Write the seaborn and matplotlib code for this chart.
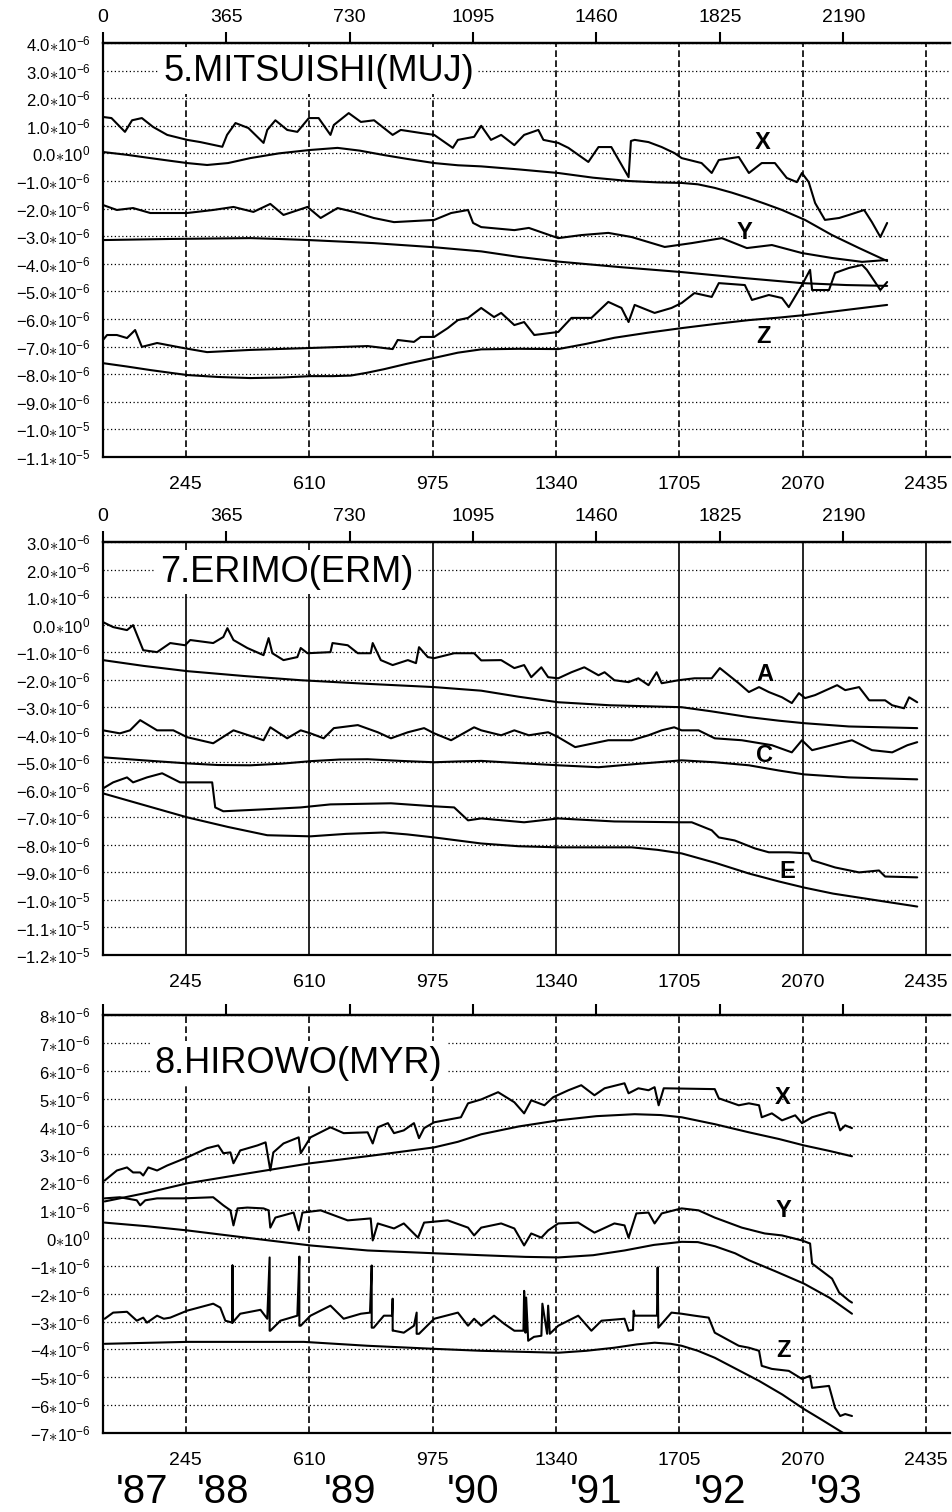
import matplotlib
matplotlib.use('Agg')
import matplotlib.pyplot as plt
import pandas as pd
import seaborn as sns

sns.set_theme(style='white')
plt.rcParams['font.family'] = ['Liberation Sans', 'DejaVu Sans']
plt.rcParams['text.color'] = 'black'
plt.rcParams['axes.labelcolor'] = 'black'
plt.rcParams['mathtext.fontset'] = 'custom'
plt.rcParams['mathtext.rm'] = 'Liberation Sans'
plt.rcParams['mathtext.it'] = 'Liberation Sans:italic'
plt.rcParams['mathtext.bf'] = 'Liberation Sans:bold'

# ---------------- axis ticks / labels ----------------
top_ticks = [0, 365, 730, 1095, 1460, 1825, 2190]
bottom_ticks = [245, 610, 975, 1340, 1705, 2070, 2435]
year_labels = ["'87", "'88", "'89", "'90", "'91", "'92", "'93"]
year_days = [115, 355, 730, 1095, 1460, 1825, 2170]

# ---------------- 5. MITSUISHI (MUJ) (units 1e-6) ----------------
muj_x_obs_day = [0, 25, 65, 86, 115, 148, 190, 249, 288, 353, 367, 392, 430, 475, 486, 510, 545, 575, 609, 638,
                 673, 683, 727, 763, 802, 857, 881, 940, 980, 1035, 1050, 1098, 1119, 1148, 1178, 1217, 1246,
                 1288, 1303, 1347, 1377, 1436, 1466, 1504, 1555, 1562, 1573, 1614, 1653, 1691, 1712, 1771, 1801,
                 1822, 1881, 1911, 1949, 1988, 2023, 2053, 2068, 2088, 2107, 2136, 2178, 2207, 2252, 2275, 2300, 2320]
muj_x_obs_val = [1.32, 1.28, 0.78, 1.2, 1.28, 0.96, 0.67, 0.49, 0.41, 0.24, 0.67, 1.1, 0.92, 0.38, 0.85, 1.2, 0.85,
                 0.78, 1.28, 1.28, 0.67, 1.03, 1.46, 1.14, 1.2, 0.67, 0.85, 0.74, 0.67, 0.2, 0.49, 0.6, 1.0, 0.49,
                 0.67, 0.3, 0.67, 0.85, 0.49, 0.38, 0.2, -0.31, 0.23, 0.23, -0.86, 0.45, 0.49, 0.41, 0.23, 0.01,
                 -0.17, -0.35, -0.71, -0.24, -0.13, -0.71, -0.35, -0.35, -0.89, -1.04, -0.71, -1.04, -1.8, -2.41,
                 -2.34, -2.23, -2.05, -2.49, -3.03, -2.52]
muj_x_fit_day = [0, 70, 140, 200, 249, 308, 370, 436, 520, 609, 694, 760, 831, 900, 980, 1050, 1119, 1230, 1347,
                 1450, 1555, 1640, 1712, 1760, 1810, 1860, 1911, 1960, 2009, 2077, 2157, 2237, 2320]
muj_x_fit_val = [0.05, -0.05, -0.17, -0.27, -0.35, -0.42, -0.35, -0.17, 0.0, 0.12, 0.2, 0.1, -0.06, -0.2, -0.35,
                 -0.43, -0.47, -0.58, -0.71, -0.88, -1.0, -1.05, -1.07, -1.12, -1.25, -1.42, -1.62, -1.83, -2.05,
                 -2.41, -2.96, -3.43, -3.9]
muj_y_obs_day = [0, 41, 89, 140, 249, 326, 386, 445, 495, 534, 605, 644, 694, 742, 801, 861, 980, 1030, 1080, 1095,
                 1119, 1217, 1260, 1347, 1415, 1495, 1564, 1662, 1742, 1831, 1905, 1979, 2068, 2157, 2246, 2320]
muj_y_obs_val = [-1.87, -2.05, -1.98, -2.16, -2.16, -2.05, -1.94, -2.12, -1.83, -2.23, -1.94, -2.34, -1.98, -2.12,
                 -2.34, -2.49, -2.41, -2.16, -2.05, -2.52, -2.67, -2.78, -2.7, -3.07, -2.96, -2.88, -3.03, -3.39,
                 -3.25, -3.07, -3.43, -3.32, -3.61, -3.79, -3.93, -3.86]
muj_y_fit_day = [0, 200, 436, 520, 609, 800, 980, 1119, 1230, 1347, 1530, 1712, 1900, 2068, 2200, 2320]
muj_y_fit_val = [-3.14, -3.1, -3.07, -3.1, -3.14, -3.25, -3.4, -3.55, -3.75, -3.92, -4.12, -4.3, -4.52, -4.7,
                 -4.77, -4.8]
muj_z_obs_day = [0, 12, 41, 71, 95, 115, 160, 237, 308, 436, 614, 783, 857, 872, 920, 940, 980, 1020, 1050, 1080,
                 1119, 1157, 1178, 1217, 1246, 1276, 1347, 1386, 1445, 1495, 1534, 1555, 1573, 1632, 1682, 1712,
                 1750, 1801, 1822, 1899, 1920, 1970, 2009, 2029, 2068, 2092, 2098, 2148, 2166, 2207, 2246, 2260,
                 2300, 2320]
muj_z_obs_val = [-6.76, -6.58, -6.58, -6.69, -6.4, -7.01, -6.87, -7.05, -7.2, -7.12, -7.05, -6.98, -7.09, -6.76,
                 -6.83, -6.65, -6.65, -6.33, -6.04, -5.96, -5.6, -5.93, -5.78, -6.22, -6.11, -6.58, -6.47, -5.96,
                 -5.96, -5.38, -5.6, -6.11, -5.49, -5.78, -5.6, -5.42, -5.06, -5.2, -4.7, -4.77, -5.31, -5.13,
                 -5.24, -5.57, -4.77, -4.22, -4.95, -4.95, -4.33, -4.15, -4.04, -4.22, -4.95, -4.66]
muj_z_fit_day = [0, 70, 140, 200, 249, 340, 436, 530, 614, 680, 733, 780, 831, 900, 980, 1050, 1119, 1230, 1347,
                 1430, 1513, 1610, 1712, 1811, 1911, 2000, 2074, 2200, 2320]
muj_z_fit_val = [-7.6, -7.72, -7.85, -7.95, -8.03, -8.1, -8.14, -8.12, -8.07, -8.07, -8.05, -7.95, -7.82, -7.62,
                 -7.41, -7.22, -7.1, -7.08, -7.09, -6.9, -6.68, -6.5, -6.33, -6.18, -6.04, -5.95, -5.86, -5.67, -5.49]

# ---------------- 7. ERIMO (ERM) ----------------
erm_a_obs_day = [0, 30, 71, 89, 119, 160, 199, 243, 258, 326, 356, 368, 386, 427, 475, 490, 501, 534, 575, 585,
                 605, 673, 679, 724, 754, 792, 798, 822, 857, 902, 926, 935, 961, 980, 1039, 1098, 1119, 1178,
                 1217, 1246, 1267, 1297, 1317, 1347, 1386, 1424, 1466, 1484, 1513, 1555, 1584, 1614, 1638, 1653,
                 1703, 1750, 1801, 1825, 1881, 1911, 1941, 1970, 2009, 2038, 2059, 2077, 2107, 2172, 2196, 2237,
                 2267, 2314, 2335, 2370, 2385, 2409]
erm_a_obs_val = [0.09, -0.09, -0.2, -0.02, -0.93, -1.0, -0.67, -0.75, -0.56, -0.67, -0.45, -0.13, -0.56, -0.85,
                 -1.11, -0.49, -1.04, -1.29, -1.18, -0.85, -1.04, -1.0, -0.67, -0.75, -1.04, -1.04, -0.67, -1.29,
                 -1.47, -1.29, -1.4, -0.82, -1.18, -1.22, -1.04, -1.04, -1.3, -1.29, -1.58, -1.47, -1.91, -1.55,
                 -1.91, -1.95, -1.73, -1.55, -1.84, -1.73, -2.02, -2.09, -1.95, -2.2, -1.73, -2.13, -2.02, -1.95,
                 -1.95, -1.58, -2.13, -2.45, -2.27, -2.45, -2.64, -2.85, -2.49, -2.67, -2.56, -2.2, -2.38, -2.27,
                 -2.75, -2.75, -2.93, -3.04, -2.64, -2.82]
erm_a_fit_day = [0, 120, 249, 420, 585, 780, 980, 1119, 1230, 1347, 1500, 1712, 1800, 1911, 2000, 2074, 2207, 2409]
erm_a_fit_val = [-1.29, -1.5, -1.69, -1.87, -2.02, -2.15, -2.27, -2.4, -2.62, -2.82, -2.93, -3.0, -3.15, -3.36,
                 -3.49, -3.58, -3.7, -3.76]
erm_c_obs_day = [0, 50, 80, 110, 160, 208, 249, 326, 386, 475, 495, 545, 585, 614, 653, 683, 754, 813, 852, 902,
                 950, 980, 1030, 1098, 1119, 1178, 1217, 1260, 1317, 1347, 1397, 1495, 1564, 1614, 1653, 1690,
                 1712, 1762, 1810, 1890, 1979, 2038, 2068, 2098, 2157, 2216, 2275, 2335, 2380, 2409]
erm_c_obs_val = [-3.84, -3.95, -3.84, -3.47, -3.84, -3.84, -4.09, -4.31, -3.84, -4.2, -3.73, -4.13, -3.84, -3.95,
                 -4.13, -3.76, -3.65, -3.91, -4.13, -3.91, -3.76, -3.95, -4.2, -3.73, -3.84, -4.02, -3.84, -4.02,
                 -3.91, -4.09, -4.45, -4.2, -4.2, -4.02, -3.84, -3.73, -3.84, -3.84, -4.13, -4.2, -4.38, -4.64,
                 -4.2, -4.56, -4.38, -4.2, -4.56, -4.64, -4.38, -4.27]
erm_c_fit_day = [0, 120, 249, 340, 436, 530, 614, 700, 783, 880, 980, 1050, 1119, 1230, 1347, 1466, 1590, 1712,
                 1811, 1911, 2000, 2074, 2207, 2409]
erm_c_fit_val = [-4.82, -4.93, -5.04, -5.1, -5.11, -5.05, -4.96, -4.9, -4.89, -4.95, -5.0, -4.97, -4.95, -5.03,
                 -5.11, -5.18, -5.05, -4.93, -5.0, -5.11, -5.3, -5.44, -5.55, -5.62]
erm_e_obs_day = [0, 30, 71, 89, 130, 175, 228, 323, 332, 356, 475, 585, 673, 852, 980, 1039, 1080, 1119, 1246,
                 1347, 1513, 1712, 1742, 1801, 1822, 1869, 1929, 1970, 2029, 2088, 2098, 2166, 2237, 2296, 2314, 2409]
erm_e_obs_val = [-5.95, -5.73, -5.55, -5.73, -5.55, -5.4, -5.73, -5.73, -6.64, -6.78, -6.71, -6.64, -6.53, -6.49,
                 -6.6, -6.64, -7.11, -7.04, -7.18, -7.04, -7.15, -7.18, -7.18, -7.47, -7.73, -7.84, -8.13, -8.27,
                 -8.27, -8.31, -8.56, -8.82, -9.0, -8.93, -9.15, -9.18]
erm_e_fit_day = [0, 120, 249, 370, 486, 614, 720, 831, 900, 980, 1119, 1230, 1347, 1564, 1640, 1712, 1811, 1911,
                 2000, 2074, 2160, 2255, 2409]
erm_e_fit_val = [-6.13, -6.55, -7.0, -7.35, -7.65, -7.69, -7.6, -7.55, -7.62, -7.73, -7.95, -8.05, -8.09, -8.09,
                 -8.18, -8.31, -8.65, -9.04, -9.33, -9.55, -9.77, -9.95, -10.24]

# ---------------- 8. HIROWO (MYR) ----------------
myr_x_obs_day = [5, 41, 71, 89, 110, 119, 134, 160, 190, 249, 308, 341, 356, 377, 386, 406, 457, 481, 495, 504,
                 534, 579, 585, 614, 673, 712, 783, 798, 813, 843, 861, 890, 920, 935, 950, 980, 1059, 1080, 1119,
                 1169, 1193, 1217, 1246, 1267, 1306, 1332, 1377, 1415, 1454, 1484, 1543, 1555, 1584, 1614, 1632,
                 1644, 1659, 1810, 1822, 1881, 1911, 1941, 1949, 1979, 2009, 2048, 2068, 2098, 2148, 2165, 2181,
                 2196, 2216]
myr_x_obs_val = [2.06, 2.42, 2.53, 2.35, 2.35, 2.24, 2.53, 2.42, 2.6, 2.89, 3.22, 3.32, 3.04, 3.07, 2.68, 3.14,
                 3.32, 3.43, 2.42, 3.07, 3.39, 3.61, 3.04, 3.61, 3.97, 3.76, 3.79, 3.39, 3.97, 4.12, 3.76, 3.86,
                 4.12, 3.58, 3.94, 4.15, 4.33, 4.83, 4.97, 5.23, 5.05, 4.87, 4.47, 4.94, 4.76, 5.05, 5.3, 5.48,
                 5.12, 5.37, 5.55, 5.19, 5.37, 5.3, 5.41, 4.76, 5.37, 5.34, 5.01, 4.76, 4.83, 4.76, 4.33, 4.47,
                 4.22, 4.4, 4.12, 4.33, 4.51, 4.47, 3.86, 4.04, 3.94]
myr_x_fit_day = [5, 130, 249, 430, 614, 800, 980, 1050, 1119, 1230, 1347, 1460, 1573, 1650, 1712, 1811, 1911,
                 2000, 2074, 2150, 2216]
myr_x_fit_val = [1.31, 1.62, 1.96, 2.32, 2.68, 2.96, 3.25, 3.45, 3.72, 4.0, 4.22, 4.37, 4.44, 4.41, 4.33, 4.08,
                 3.79, 3.55, 3.32, 3.12, 2.93]
myr_y_obs_day = [5, 50, 100, 110, 125, 160, 237, 326, 356, 377, 386, 398, 427, 475, 490, 495, 510, 564, 579, 590,
                 644, 724, 792, 798, 813, 861, 890, 932, 950, 1020, 1080, 1098, 1119, 1178, 1217, 1246, 1267,
                 1297, 1317, 1347, 1406, 1454, 1513, 1543, 1555, 1578, 1614, 1632, 1653, 1712, 1762, 1810, 1890,
                 1958, 2009, 2068, 2092, 2098, 2157, 2178, 2207, 2216]
myr_y_obs_val = [1.42, 1.46, 1.35, 1.17, 1.35, 1.42, 1.42, 1.46, 1.17, 0.99, 0.45, 1.06, 1.09, 1.06, 0.99, 0.37,
                 0.73, 0.91, 0.27, 0.91, 0.99, 0.63, 0.7, -0.09, 0.52, 0.34, 0.52, 0.01, 0.55, 0.63, 0.37, 0.09,
                 0.37, 0.52, 0.34, -0.27, 0.16, 0.01, 0.27, 0.52, 0.55, 0.19, 0.52, 0.45, 0.01, 0.88, 0.91, 0.52,
                 0.88, 1.06, 0.99, 0.73, 0.37, 0.16, 0.09, -0.09, -0.2, -0.92, -1.46, -1.96, -2.25, -2.32]
myr_y_fit_day = [5, 130, 249, 430, 614, 783, 980, 1119, 1250, 1347, 1450, 1543, 1630, 1712, 1760, 1811, 1870,
                 1911, 1990, 2074, 2150, 2216]
myr_y_fit_val = [0.55, 0.42, 0.27, 0.0, -0.27, -0.45, -0.55, -0.62, -0.68, -0.7, -0.62, -0.45, -0.25, -0.14, -0.15,
                 -0.3, -0.55, -0.8, -1.2, -1.64, -2.15, -2.72]
myr_z_obs_day = [5, 30, 71, 100, 119, 130, 160, 180, 199, 249, 326, 347, 362, 383, 383, 383, 406, 466, 486, 493,
                 493, 495, 525, 575, 581, 581, 585, 614, 673, 712, 763, 790, 795, 795, 801, 831, 855, 857, 857,
                 861, 890, 920, 928, 928, 935, 980, 1050, 1080, 1098, 1119, 1157, 1187, 1217, 1244, 1246, 1250,
                 1252, 1258, 1275, 1297, 1300, 1314, 1317, 1322, 1347, 1406, 1445, 1475, 1543, 1555, 1568, 1570,
                 1573, 1614, 1639, 1641, 1643, 1682, 1712, 1750, 1792, 1810, 1881, 1911, 1941, 1949, 1979, 2029,
                 2068, 2092, 2098, 2148, 2166, 2181, 2196, 2216]
myr_z_obs_val = [-2.9, -2.68, -2.65, -2.97, -2.86, -3.04, -2.79, -2.9, -2.86, -2.61, -2.36, -2.5, -2.97, -3.04,
                 -0.99, -3.04, -2.72, -2.58, -2.9, -0.7, -3.33, -3.33, -2.97, -2.79, -0.67, -3.15, -3.15, -2.79,
                 -2.43, -2.9, -2.72, -2.68, -0.99, -3.22, -3.22, -2.79, -2.79, -2.18, -3.33, -3.33, -3.4, -3.15,
                 -2.68, -3.44, -3.44, -2.9, -2.68, -3.15, -2.9, -3.15, -2.79, -3.08, -3.33, -3.33, -1.9, -3.4,
                 -2.14, -3.69, -3.55, -3.51, -2.36, -3.44, -2.43, -3.44, -3.15, -2.79, -3.33, -2.97, -2.9, -3.33,
                 -3.3, -2.61, -2.79, -2.79, -2.79, -1.06, -3.22, -2.68, -2.72, -2.79, -2.86, -3.4, -3.87, -3.94,
                 -4.05, -4.59, -4.7, -4.77, -5.06, -4.95, -5.38, -5.31, -6.1, -6.39, -6.32, -6.39]
myr_z_fit_day = [5, 249, 594, 783, 980, 1119, 1347, 1430, 1513, 1580, 1632, 1680, 1712, 1760, 1810, 1870, 1941,
                 2010, 2074, 2130, 2190]
myr_z_fit_val = [-3.8, -3.73, -3.73, -3.87, -3.98, -4.05, -4.12, -4.05, -3.94, -3.82, -3.76, -3.8, -3.87, -4.05,
                 -4.3, -4.68, -5.13, -5.62, -6.14, -6.55, -7.0]


def fmt_dec(v):
    if v == 0:
        return r'$0.0{\ast}10^{0}$'
    if abs(v) >= 10:
        return r'$%.1f{\ast}10^{-5}$' % (v / 10.0)
    return r'$%.1f{\ast}10^{-6}$' % v


def fmt_int(v):
    if v == 0:
        return r'$0{\ast}10^{0}$'
    return r'$%d{\ast}10^{-6}$' % v


def draw(ax, days, vals):
    df = pd.DataFrame({'day': days, 'val': vals})
    sns.lineplot(data=df, x='day', y='val', ax=ax, color='black', lw=1.5,
                 estimator=None, sort=False, zorder=3)


def setup(ax, ylo, yhi, fmt, grid_style, top_labels, title, title_pos, series_labels):
    ax.set_xlim(0, 2506)
    ax.set_ylim(ylo, yhi)
    ax.set_xlabel('')
    ax.set_ylabel('')
    yt = list(range(ylo, yhi + 1))
    ax.set_yticks(yt)
    ax.set_yticklabels([fmt(v) for v in yt])
    ax.set_xticks(bottom_ticks)
    ax.set_xticklabels([str(t) for t in bottom_ticks])
    ax.tick_params(axis='x', direction='out', length=9, width=1.5, labelsize=14, pad=5, colors='black')
    ax.tick_params(axis='y', direction='out', length=7, width=1.3, labelsize=12, pad=2, colors='black')
    for s in ['left', 'bottom', 'top']:
        ax.spines[s].set_visible(True)
        ax.spines[s].set_color('black')
        ax.spines[s].set_linewidth(1.6)
    ax.spines['right'].set_visible(False)
    ax.set_axisbelow(True)
    ax.yaxis.grid(True, color='black', linestyle=(0, (1, 2)), lw=0.9)
    if grid_style == 'solid':
        ax.xaxis.grid(True, color='black', linestyle='-', lw=1.2)
    else:
        ax.xaxis.grid(True, color='black', linestyle=(0, (4, 2)), lw=1.2)
    sec = ax.secondary_xaxis('top')
    sec.set_xticks(top_ticks)
    sec.set_xticklabels([str(t) for t in top_ticks] if top_labels else [''] * len(top_ticks))
    sec.tick_params(direction='out', length=8, width=1.5, labelsize=14, pad=4, colors='black')
    sec.spines['top'].set_linewidth(1.6)
    sec.spines['top'].set_color('black')
    ax.text(title_pos[0], title_pos[1], title, transform=ax.transAxes, fontsize=26,
            ha='left', va='center', zorder=5, color='black',
            bbox=dict(facecolor='white', edgecolor='none', pad=3))
    for lab, d, v in series_labels:
        ax.text(d, v, lab, fontsize=17, fontweight='bold', ha='center', va='center',
                zorder=5, color='black')


fig = plt.figure(figsize=(9.53, 15.12), dpi=100)
W, H = 953.0, 1512.0
left = 103 / W
width = (950 - 103) / W
ax1 = fig.add_axes([left, 1 - 457 / H, width, (457 - 43) / H])
ax2 = fig.add_axes([left, 1 - 955 / H, width, (955 - 542) / H])
ax3 = fig.add_axes([left, 1 - 1433 / H, width, (1433 - 1015) / H])

for d, v in [(muj_x_obs_day, muj_x_obs_val), (muj_x_fit_day, muj_x_fit_val),
             (muj_y_obs_day, muj_y_obs_val), (muj_y_fit_day, muj_y_fit_val),
             (muj_z_obs_day, muj_z_obs_val), (muj_z_fit_day, muj_z_fit_val)]:
    draw(ax1, d, v)
for d, v in [(erm_a_obs_day, erm_a_obs_val), (erm_a_fit_day, erm_a_fit_val),
             (erm_c_obs_day, erm_c_obs_val), (erm_c_fit_day, erm_c_fit_val),
             (erm_e_obs_day, erm_e_obs_val), (erm_e_fit_day, erm_e_fit_val)]:
    draw(ax2, d, v)
for d, v in [(myr_x_obs_day, myr_x_obs_val), (myr_x_fit_day, myr_x_fit_val),
             (myr_y_obs_day, myr_y_obs_val), (myr_y_fit_day, myr_y_fit_val),
             (myr_z_obs_day, myr_z_obs_val), (myr_z_fit_day, myr_z_fit_val)]:
    draw(ax3, d, v)

setup(ax1, -11, 4, fmt_dec, 'dashed', True, '5.MITSUISHI(MUJ)', (0.071, 0.93),
      [('X', 1953, 0.38), ('Y', 1899, -2.85), ('Z', 1953, -6.65)])
setup(ax2, -12, 3, fmt_dec, 'solid', True, '7.ERIMO(ERM)', (0.067, 0.927),
      [('A', 1958, -1.8), ('C', 1958, -4.75), ('E', 2024, -8.96)])
setup(ax3, -7, 8, fmt_int, 'dashed', False, '8.HIROWO(MYR)', (0.061, 0.885),
      [('X', 2012, 5.05), ('Y', 2012, 0.99), ('Z', 2012, -4.05)])

for lab, d in zip(year_labels, year_days):
    ax3.text(d, -0.141, lab, transform=ax3.get_xaxis_transform(), fontsize=29,
             ha='center', va='center', color='black')

fig.savefig('out.png', dpi=100)
